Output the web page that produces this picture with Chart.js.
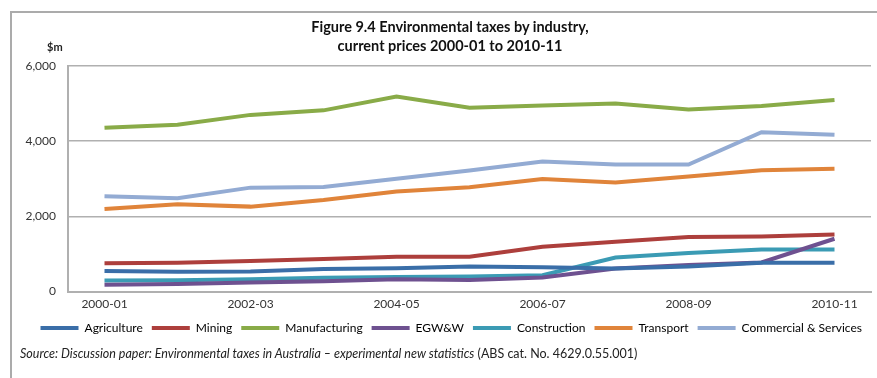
<!DOCTYPE html>
<html>
<head>
<meta charset="utf-8">
<script src="https://cdn.jsdelivr.net/npm/chart.js@4.4.1/dist/chart.umd.min.js"></script>
<style>
  html, body { margin: 0; padding: 0; background: #fff; }
  body { width: 877px; height: 378px; position: relative; overflow: hidden; font-family: Lato, sans-serif; }
  #frame { position: absolute; left: 10px; top: 11px; width: 880px; height: 400px;
           border-top: 2px solid #ababab; border-left: 2px solid #ababab; }
  #wrap { position: absolute; left: 0; top: 0; width: 877px; height: 348px; }
  #title { position: absolute; left: 250px; width: 400px; top: 17px; text-align: center;
           font-size: 14.5px; line-height: 19px; font-weight: bold; color: #111; }
  #unit { position: absolute; left: 47px; top: 40px; font-size: 11px; font-weight: bold; color: #222; }
  #source { position: absolute; left: 20px; top: 346px; font-size: 12.5px; color: #222; white-space: nowrap; }
</style>
</head>
<body>
<div id="frame"></div>
<div id="wrap"><canvas id="chart"></canvas></div>
<div id="title">Figure 9.4 Environmental taxes by industry,<br>current prices 2000-01 to 2010-11</div>
<div id="unit">$m</div>
<div id="source"><i>Source: Discussion paper: Environmental taxes in Australia – experimental new statistics</i> (ABS cat. No. 4629.0.55.001)</div>
<script>
// years (financial years)
const years = ['2000-01','2001-02','2002-03','2003-04','2004-05','2005-06',
               '2006-07','2007-08','2008-09','2009-10','2010-11'];

// values, $m
const agriculture   = [550, 530, 535, 600, 620, 665, 650, 615, 665, 770, 770];
const mining        = [755, 765, 815, 870, 925, 925, 1190, 1325, 1450, 1465, 1520];
const manufacturing = [4355, 4440, 4700, 4820, 5185, 4890, 4950, 5000, 4845, 4935, 5095];
const egww          = [180, 205, 240, 275, 330, 310, 375, 615, 705, 775, 1405];
const construction  = [295, 300, 330, 370, 390, 400, 435, 905, 1025, 1120, 1120];
const transport     = [2195, 2320, 2260, 2435, 2660, 2775, 2995, 2900, 3060, 3225, 3270];
const commercial    = [2535, 2480, 2765, 2785, 3000, 3220, 3460, 3380, 3380, 4240, 4170];

const yTicks = [0, 2000, 4000, 6000];

const series = [
  { label: 'Agriculture',           data: agriculture,   color: '#3a6ea8' },
  { label: 'Mining',                data: mining,        color: '#ad3f3c' },
  { label: 'Manufacturing',         data: manufacturing, color: '#89ab48' },
  { label: 'EGW&W',                 data: egww,          color: '#6e5190' },
  { label: 'Construction',          data: construction,  color: '#3b9bb4' },
  { label: 'Transport',             data: transport,     color: '#e0843a' },
  { label: 'Commercial & Services', data: commercial,    color: '#93abd3' }
];

const ctx = document.getElementById('chart').getContext('2d');
new Chart(ctx, {
  type: 'line',
  data: {
    labels: years,
    datasets: series.map(s => ({
      label: s.label,
      data: s.data,
      borderColor: s.color,
      backgroundColor: s.color,
      borderWidth: 4,
      pointRadius: 0,
      tension: 0
    }))
  },
  options: {
    responsive: true,
    maintainAspectRatio: false,
    animation: false,
    layout: { padding: { left: 0, right: 6, top: 66, bottom: 4 } },
    plugins: {
      title: { display: false },
      legend: {
        position: 'bottom',
        align: 'end',
        labels: {
          color: '#222',
          font: { family: 'Lato', size: 12 },
          boxWidth: 38,
          boxHeight: 4,
          padding: 9,
          generateLabels: chart => chart.data.datasets.map((d, i) => ({
            text: d.label,
            fillStyle: d.borderColor,
            strokeStyle: d.borderColor,
            lineWidth: 0,
            datasetIndex: i
          }))
        }
      },
      tooltip: { enabled: false }
    },
    scales: {
      x: {
        offset: true,
        afterFit: axis => { axis.height = 21.4; },
        grid: { display: false, drawTicks: false },
        border: { color: '#b0b0b0', width: 2 },
        ticks: {
          color: '#333',
          font: { family: 'Lato', size: 12 },
          padding: 5,
          maxRotation: 0,
          autoSkip: false,
          callback: (v, i) => (i % 2 === 0 ? years[i] : '')
        }
      },
      y: {
        min: 0,
        max: 6000,
        afterBuildTicks: axis => { axis.ticks = yTicks.map(v => ({ value: v })); },
        afterFit: axis => { axis.width = 68; },
        grid: { color: '#b0b0b0', lineWidth: 1.5, drawTicks: false },
        border: { color: '#b0b0b0', width: 2 },
        ticks: {
          color: '#333',
          font: { family: 'Lato', size: 12 },
          padding: 12,
          callback: v => v.toLocaleString('en-US')
        }
      }
    }
  }
});
</script>
</body>
</html>
